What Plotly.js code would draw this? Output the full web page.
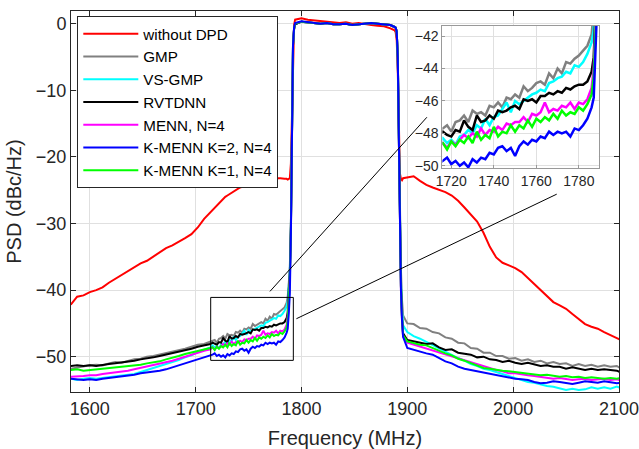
<!DOCTYPE html>
<html>
<head>
<meta charset="utf-8">
<script src="https://cdn.plot.ly/plotly-3.0.1.min.js"></script>
<style>html,body{margin:0;padding:0;background:#fff;}#chart{width:639px;height:449px;}</style>
</head>
<body>
<div id="chart"></div>
<script>
const freq = [
  1582,1588,1594,1600,1606,1612,1618,1624,1630,1636,1642,1648,1654,1660,1666,1672,1678,1684,1690,1696,1702,1708,1714,
  1716,1718,1720,1722,1724,1726,1728,1730,1732,1734,1736,1738,1740,1742,1744,1746,1748,1750,1752,1754,1756,1758,1760,1762,1764,1766,1768,1770,1772,1774,1776,1778,1780,1782,1784,1786,
  1787,1788,1789,1790,1791,1792,1793,1794,
  1800,1806,1812,1818,1824,1830,1836,1842,1848,1854,1860,1866,1872,1878,1884,1888,
  1889,1890,1891,1892,1893,1894,1895,1896,
  1900,1906,1912,1918,1924,1930,1936,1942,1948,1954,1960,1966,1972,1978,1984,1990,1996,2002,2008,2014,2020,2026,2032,2038,2044,2050,2056,2062,2068,2074,2080,2086,2092,2098,2102
];

const withoutDPD = [
  -42.2,-41.0,-40.8,-40.3,-40.0,-39.6,-38.9,-38.3,-37.8,-37.1,-36.6,-36.0,-35.6,-35.0,-34.4,-33.7,-33.3,-32.8,-32.2,-31.6,-30.6,-29.3,-28.3,
  -27.9,-27.6,-27.3,-27.0,-26.7,-26.3,-26.0,-25.8,-25.6,-25.3,-25.2,-24.9,-24.8,-24.6,-24.5,-24.4,-24.3,-24.3,-24.1,-24.2,-24.1,-24.0,-23.8,-23.7,-23.5,-23.3,-23.2,-23.4,-23.3,-23.3,-23.4,-23.2,-23.2,-23.3,-23.3,-23.3,
  -23.4,-23.3,-23.2,-21.0,-12.0,-3.0,-0.2,0.6,
  0.8,0.6,0.5,0.4,0.3,0.3,0.1,0.2,0.0,0.1,-0.1,-0.2,-0.3,-0.4,-0.7,-1.0,
  -1.3,-2.5,-7.0,-17.0,-22.5,-23.3,-23.5,-23.2,
  -23.1,-22.9,-23.6,-24.2,-24.6,-24.9,-25.3,-25.8,-26.6,-27.6,-28.6,-29.7,-31.4,-33.5,-35.1,-35.9,-36.3,-36.7,-37.3,-38.2,-39.1,-40.1,-41.0,-41.8,-42.3,-42.8,-43.6,-44.4,-45.1,-45.5,-45.8,-46.3,-46.7,-47.2,-47.5
];

const gmp = [
  -51.8,-51.6,-51.5,-51.3,-51.2,-51.3,-51.0,-50.8,-50.9,-50.6,-50.4,-50.3,-50.0,-49.9,-49.7,-49.5,-49.2,-49.0,-48.8,-48.5,-48.2,-48.1,-47.8,
  -47.7,-47.5,-47.9,-47.3,-47.2,-46.9,-47.3,-46.6,-46.8,-46.7,-46.9,-46.3,-46.4,-46.1,-46.4,-45.8,-45.9,-45.6,-45.8,-45.1,-45.4,-45.2,-44.9,-44.8,-45.0,-44.3,-44.6,-44.0,-44.3,-43.6,-43.7,-43.4,-43.2,-42.9,-42.6,-41.9,
  -41.0,-39.0,-36.5,-30.0,-13.5,-3.2,-0.8,-0.1,
  0.3,0.2,0.1,0.0,0.1,-0.1,-0.1,0.0,-0.2,-0.1,0.0,0.1,0.0,-0.1,-0.2,-0.5,
  -0.6,-1.2,-5.0,-16.0,-29.0,-37.0,-41.5,-43.8,
  -45.0,-45.1,-45.7,-45.8,-46.3,-46.5,-47.1,-47.3,-47.9,-48.0,-48.7,-48.8,-49.4,-49.4,-49.9,-49.9,-50.3,-50.2,-50.6,-50.4,-50.8,-50.6,-51.0,-50.8,-51.1,-51.0,-51.4,-51.1,-51.4,-51.2,-51.5,-51.3,-51.5,-51.4,-51.8
];

const vsGmp = [
  -53.3,-53.5,-53.3,-53.2,-53.3,-53.2,-53.1,-53.0,-52.9,-52.8,-52.6,-52.3,-52.0,-51.8,-51.5,-51.2,-50.8,-50.5,-50.1,-49.8,-49.3,-49.0,-48.6,
  -48.3,-48.6,-48.4,-48.7,-48.2,-48.1,-47.8,-48.0,-47.5,-47.7,-47.1,-47.5,-47.0,-46.9,-46.5,-46.1,-46.7,-46.0,-46.2,-46.0,-45.8,-45.6,-45.5,-45.3,-45.4,-44.9,-44.8,-44.6,-44.5,-44.2,-44.3,-43.8,-43.9,-43.6,-43.1,-42.4,
  -41.6,-39.5,-37.0,-30.5,-13.5,-3.2,-0.8,-0.1,
  0.3,0.2,0.1,0.0,0.1,-0.1,-0.1,0.0,-0.2,-0.1,0.0,0.1,0.0,-0.1,-0.2,-0.5,
  -0.6,-1.2,-5.0,-16.5,-30.0,-38.5,-43.0,-45.3,
  -46.3,-46.9,-47.3,-47.8,-48.2,-48.8,-49.2,-49.7,-50.2,-50.6,-51.1,-51.4,-51.8,-52.0,-52.3,-52.6,-52.9,-53.2,-53.4,-53.8,-53.9,-54.2,-54.4,-54.5,-54.8,-55.0,-54.8,-55.0,-54.9,-54.6,-54.8,-54.6,-54.8,-54.5,-54.7
];

const rvtdnn = [
  -51.4,-51.3,-51.4,-51.3,-51.4,-51.2,-51.1,-51.0,-50.9,-50.8,-50.6,-50.4,-50.3,-50.1,-49.9,-49.7,-49.5,-49.3,-49.0,-48.8,-48.5,-48.3,-48.1,
  -47.9,-48.1,-48.2,-47.8,-47.9,-47.2,-47.6,-47.8,-46.9,-47.3,-47.2,-46.9,-47.1,-46.6,-46.7,-46.6,-46.4,-46.3,-46.5,-45.9,-46.0,-45.9,-46.1,-45.7,-45.7,-45.5,-45.6,-45.4,-45.5,-45.2,-45.3,-45.1,-45.0,-45.0,-44.8,-44.2,
  -43.3,-40.0,-37.5,-30.5,-13.5,-3.2,-0.8,-0.1,
  0.3,0.2,0.1,0.0,0.1,-0.1,-0.1,0.0,-0.2,-0.1,0.0,0.1,0.0,-0.1,-0.2,-0.5,
  -0.6,-1.2,-5.0,-17.0,-30.5,-39.5,-44.0,-46.5,
  -47.5,-47.7,-47.9,-48.1,-48.0,-48.6,-49.0,-48.9,-49.4,-49.6,-49.7,-50.1,-50.0,-50.4,-50.5,-50.8,-50.6,-50.9,-51.1,-50.9,-51.2,-51.4,-51.3,-51.5,-51.5,-51.8,-51.6,-51.8,-52.0,-51.8,-52.0,-51.9,-52.0,-52.1,-52.4
];

const menn = [
  -53.0,-53.0,-52.9,-52.8,-52.8,-52.6,-52.5,-52.4,-52.2,-52.1,-51.9,-51.7,-51.5,-51.3,-51.1,-50.9,-50.6,-50.3,-50.0,-49.7,-49.3,-49.1,-48.9,
  -48.6,-48.9,-48.5,-48.7,-48.4,-48.1,-48.3,-48.0,-48.2,-47.7,-48.1,-47.8,-47.9,-47.6,-47.8,-47.4,-47.5,-47.3,-47.3,-47.0,-47.3,-46.8,-46.9,-46.7,-46.1,-46.7,-46.5,-46.6,-46.3,-46.4,-46.1,-46.5,-46.1,-46.2,-45.9,-45.2,
  -44.0,-40.5,-38.0,-31.0,-13.5,-3.2,-0.8,0.0,
  0.3,0.2,0.1,0.0,0.1,-0.1,-0.1,0.0,-0.2,-0.1,0.0,0.1,0.0,-0.1,-0.2,-0.5,
  -0.6,-1.2,-5.0,-17.0,-30.5,-40.0,-44.5,-47.0,
  -47.9,-48.2,-48.4,-48.7,-49.0,-49.3,-49.7,-50.0,-50.3,-50.6,-50.9,-51.2,-51.5,-51.8,-52.0,-52.2,-52.5,-52.5,-52.7,-52.8,-52.9,-53.0,-53.1,-53.3,-53.2,-53.4,-53.5,-53.4,-53.3,-53.5,-53.4,-53.3,-53.5,-53.4,-53.6
];

const kmennK1 = [
  -52.0,-51.9,-52.1,-52.0,-51.9,-51.9,-51.8,-51.7,-51.6,-51.5,-51.4,-51.2,-51.0,-50.9,-50.7,-50.4,-50.2,-49.9,-49.6,-49.4,-49.1,-48.9,-48.7,
  -48.6,-49.0,-48.5,-48.8,-48.4,-48.6,-48.2,-48.6,-47.9,-48.4,-48.1,-48.3,-47.6,-48.2,-47.9,-48.0,-47.5,-47.9,-47.5,-47.7,-47.2,-47.6,-47.1,-47.3,-47.0,-47.2,-46.8,-47.1,-46.6,-46.9,-46.7,-46.8,-46.4,-46.6,-46.2,-45.6,
  -44.5,-41.3,-38.5,-31.0,-13.5,-3.2,-0.8,0.0,
  0.3,0.2,0.1,0.0,0.1,-0.1,-0.1,0.0,-0.2,-0.1,0.0,0.1,0.0,-0.1,-0.2,-0.5,
  -0.6,-1.2,-5.0,-17.0,-30.5,-39.5,-44.3,-46.8,
  -47.7,-48.0,-48.2,-48.3,-48.7,-49.2,-49.5,-49.8,-50.3,-50.6,-51.0,-51.4,-51.7,-51.8,-52.0,-52.1,-52.2,-52.3,-52.4,-52.5,-52.6,-52.8,-52.7,-52.9,-53.0,-52.9,-53.1,-53.0,-53.2,-53.1,-53.2,-53.3,-53.2,-53.3,-53.2
];

const kmennK2 = [
  -53.3,-53.4,-53.5,-53.4,-53.5,-53.3,-53.2,-53.1,-52.9,-52.8,-52.7,-52.5,-52.4,-52.2,-52.1,-51.9,-51.6,-51.3,-51.0,-50.8,-50.5,-50.2,-49.9,
  -49.7,-49.5,-49.9,-49.7,-50.0,-49.8,-50.1,-49.6,-49.8,-49.5,-49.6,-49.2,-49.3,-48.9,-48.8,-49.1,-48.9,-49.4,-48.8,-48.5,-48.7,-48.4,-48.5,-48.2,-48.3,-47.9,-48.1,-47.9,-48.0,-47.9,-48.2,-47.7,-47.8,-47.5,-47.1,-46.4,
  -45.8,-43.5,-40.5,-31.5,-13.5,-3.2,-0.6,0.1,
  0.35,0.2,0.1,0.0,0.1,-0.1,-0.1,0.0,-0.2,-0.1,0.0,0.1,0.0,-0.1,-0.2,-0.5,
  -0.6,-1.2,-5.0,-17.0,-31.0,-40.0,-44.5,-47.0,
  -48.7,-49.0,-49.2,-49.5,-49.7,-50.2,-50.7,-51.0,-51.5,-51.8,-52.0,-52.2,-52.4,-52.6,-52.8,-53.0,-53.2,-53.3,-53.4,-53.5,-53.8,-54.0,-53.9,-53.7,-53.8,-54.0,-54.1,-53.9,-53.7,-53.8,-53.9,-53.7,-53.8,-54.0,-53.9
];

const seriesNames = ['without DPD','GMP','VS-GMP','RVTDNN','MENN, N=4','K-MENN K=1, N=4','K-MENN K=2, N=4'];
const seriesValues = [withoutDPD, gmp, vsGmp, rvtdnn, menn, kmennK1, kmennK2];
const seriesColors = ['#ff0000','#808080','#00ffff','#000000','#ff00ff','#00ff00','#0000ff'];
const legendRanks = [1,2,3,4,5,7,6];

const mainXTicks = [1600,1700,1800,1900,2000,2100];
const mainYTicks = [0,-10,-20,-30,-40,-50];
const insetXTicks = [1720,1740,1760,1780];
const insetYTicks = [-42,-44,-46,-48,-50];

const traces = [];
seriesValues.forEach((vals, i) => {
  traces.push({x: freq, y: vals, type: 'scatter', mode: 'lines', name: seriesNames[i],
    legendrank: legendRanks[i], line: {color: seriesColors[i], width: 2}, xaxis: 'x', yaxis: 'y', hoverinfo: 'skip'});
});
seriesValues.forEach((vals, i) => {
  traces.push({x: freq, y: vals, type: 'scatter', mode: 'lines', name: seriesNames[i], showlegend: false,
    line: {color: seriesColors[i], width: 2.5}, xaxis: 'x2', yaxis: 'y2', hoverinfo: 'skip'});
});

const axColor = '#262626';
const layout = {
  width: 639, height: 449,
  margin: {l: 71, r: 19.5, t: 11, b: 57},
  paper_bgcolor: '#ffffff', plot_bgcolor: '#ffffff',
  font: {family: 'Liberation Sans, Arial, sans-serif', color: axColor, size: 18},
  showlegend: true,
  legend: {x: 0.0115, y: 0.986, xanchor: 'left', yanchor: 'top', bgcolor: '#ffffff',
    bordercolor: axColor, borderwidth: 1, font: {size: 15.2, color: '#000000'}, itemwidth: 55},
  xaxis: {domain: [0, 1], range: [1582.2, 2100.05], tickmode: 'array', tickvals: mainXTicks,
    ticks: 'inside', ticklen: 5, tickcolor: axColor, showline: true, linecolor: axColor, linewidth: 1,
    mirror: 'ticks', showgrid: true, gridcolor: '#e0e0e0', zeroline: false, ticklabeloverflow: 'allow',
    tickfont: {size: 18}, title: {text: 'Frequency (MHz)', font: {size: 20}}},
  yaxis: {domain: [0, 1], range: [-55.3, 1.9], tickmode: 'array', tickvals: mainYTicks,
    ticks: 'inside', ticklen: 5, tickcolor: axColor, showline: true, linecolor: axColor, linewidth: 1,
    mirror: 'ticks', showgrid: true, gridcolor: '#e0e0e0', zeroline: false,
    tickfont: {size: 18}, title: {text: 'PSD (dBc/Hz)', font: {size: 20}}},
  xaxis2: {domain: [0.6777, 0.9632], anchor: 'y2', range: [1715.8, 1789.4], tickmode: 'array', tickvals: insetXTicks,
    ticks: 'inside', ticklen: 3, tickcolor: '#999999', showline: true, linecolor: '#999999', mirror: true,
    showgrid: true, gridcolor: '#e0e0e0', zeroline: false, tickfont: {size: 14}},
  yaxis2: {domain: [0.5871, 0.9606], anchor: 'x2', range: [-50.16, -41.38], tickmode: 'array', tickvals: insetYTicks,
    ticks: 'inside', ticklen: 3, tickcolor: '#999999', showline: true, linecolor: '#999999', mirror: true,
    showgrid: true, gridcolor: '#e0e0e0', zeroline: false, tickfont: {size: 14}},
  shapes: [
    {type: 'rect', xref: 'x', yref: 'y', x0: 1714.2, x1: 1792.3, y0: -50.55, y1: -41.1, line: {color: '#000000', width: 1}},
    {type: 'line', xref: 'x', yref: 'y', x0: 1770.2, y0: -40.2, x1: 1918.5, y1: -14.05, line: {color: '#000000', width: 1}},
    {type: 'line', xref: 'x', yref: 'y', x0: 1795.2, y0: -44.3, x1: 2041.2, y1: -25.6, line: {color: '#000000', width: 1}}
  ]
};

Plotly.newPlot('chart', traces, layout, {displayModeBar: false, staticPlot: true});
</script>
</body>
</html>
